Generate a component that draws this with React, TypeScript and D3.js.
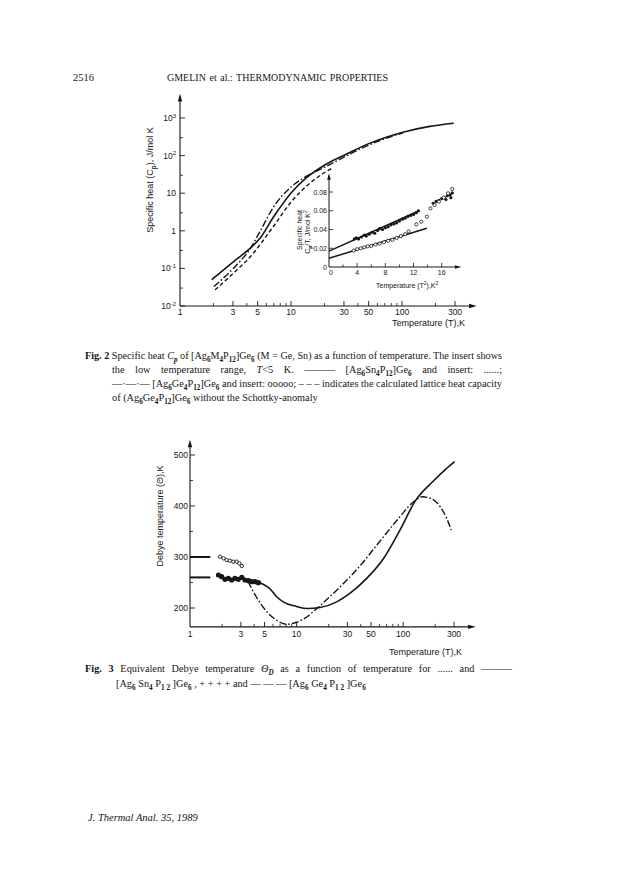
import * as d3 from 'd3';
import { useEffect, useRef } from 'react';

// ---- Fig. 2: specific heat, log-log --------------------------------------
const fig2XMajor = [1, 3, 5, 10, 30, 50, 100, 300];
const fig2XMinor = [2, 4, 6, 7, 8, 9, 20, 40, 60, 70, 80, 90, 200];
const fig2YMajor = [0.01, 0.1, 1, 10, 100, 1000];
const fig2YLabels: [string, string][] = [['10', '-2'], ['10', '-1'], ['1', ''], ['10', ''], ['10', '2'], ['10', '3']];
const fig2YMinor = [0.03, 0.3, 3, 30, 300];

// [T (K), Cp (J/mol K)]
const cpSn: [number, number][] = [
  [1.93, 0.05], [3.02, 0.15], [4.27, 0.34], [5.25, 0.63], [6.93, 2.3], [10.1, 10.5],
  [13.8, 26], [20.9, 60], [31.7, 110], [49.6, 205], [102, 420], [178, 600], [292, 725],
];
const cpGe: [number, number][] = [
  [2.02, 0.033], [3.02, 0.1], [4.27, 0.33], [5.25, 0.95], [6.93, 4.2], [10.1, 15],
  [12.9, 25], [20.9, 52], [49.6, 188], [102, 405],
];
const cpLattice: [number, number][] = [
  [2.07, 0.027], [3.02, 0.074], [4.27, 0.2], [6.93, 1.3], [10.1, 6], [15.9, 22], [24, 48],
];

// insert: Cp/T against T^2
const insXMajor = [0, 4, 8, 12, 16];
const insXMinor = [2, 6, 10, 14];
const insYMajor = [0, 0.02, 0.04, 0.06, 0.08];
const insYLabels = ['0', '0.02', '0.04', '0.06', '0.08'];
const insLineSn: [number, number][] = [[0, 0.017], [12.8, 0.06]];
const insLineGe: [number, number][] = [[0, 0.0093], [13.9, 0.0413]];
const insPtsSn: [number, number][] = [
  [3.6, 0.03], [3.9, 0.031], [4.2, 0.03], [4.6, 0.032], [5.0, 0.034], [5.3, 0.033], [5.7, 0.035],
  [6.1, 0.037], [6.5, 0.036], [6.9, 0.039], [7.2, 0.041], [7.6, 0.04], [8.0, 0.042], [8.4, 0.043],
  [8.8, 0.045], [9.2, 0.046], [9.6, 0.047], [10.0, 0.049], [10.4, 0.051], [10.8, 0.052],
  [11.2, 0.054], [11.6, 0.055], [12.0, 0.056], [12.4, 0.058], [12.7, 0.06],
  [14.8, 0.068], [15.2, 0.07], [15.6, 0.071], [16.0, 0.073], [16.4, 0.074], [16.6, 0.072],
  [16.8, 0.076], [17.2, 0.077], [17.3, 0.074], [17.5, 0.079],
];
const insPtsGe: [number, number][] = [
  [3.5, 0.0175], [4.0, 0.019], [4.5, 0.02], [5.0, 0.021], [5.5, 0.022], [6.0, 0.0225],
  [6.6, 0.024], [7.2, 0.025], [7.8, 0.0265], [8.4, 0.028], [9.0, 0.029], [9.6, 0.031],
  [10.2, 0.033], [10.8, 0.035], [11.3, 0.038], [12.4, 0.0455], [13.1, 0.0483], [13.9, 0.0537],
  [14.4, 0.0626], [15.0, 0.0661], [15.6, 0.0697], [16.3, 0.074], [16.9, 0.0786], [17.5, 0.0832],
];

// ---- Fig. 3: Debye temperature --------------------------------------------
const fig3XMajor = [1, 3, 5, 10, 30, 50, 100, 300];
const fig3XMinor = [2, 4, 6, 7, 8, 9, 20, 40, 60, 70, 80, 90, 200];
const fig3YMajor = [200, 300, 400, 500];
const fig3YMinor = [250, 350, 450];

const thetaSn: [number, number][] = [
  [4.0, 254], [4.9, 246], [5.6, 238], [6.5, 222], [7.5, 212], [10, 203], [12.5, 199],
  [16.6, 201], [23.8, 212], [31.8, 229], [45.5, 258], [65, 296], [93, 352], [130, 410],
  [190, 448], [250, 472], [305, 487],
];
const thetaGe: [number, number][] = [
  [3.5, 252], [4.3, 218], [5.3, 192], [6.5, 176], [8.0, 168], [10, 172], [12, 180],
  [15.5, 199], [23.8, 235], [36.6, 275], [60, 330], [87.5, 372], [125, 408], [150, 418],
  [185, 414], [222, 399], [256, 376], [282, 353],
];
const lowSn: [number, number][] = [
  [1.91, 300.6], [2.06, 297.4], [2.21, 294], [2.37, 292.8], [2.55, 290.8], [2.74, 290.8],
  [2.9, 287.6], [3.06, 282.4],
];
const lowGe: [number, number][] = [
  [1.85, 264.7], [1.98, 261.4], [2.13, 256.2], [2.29, 258.2], [2.46, 254.9], [2.64, 258.2],
  [2.84, 256.2], [3.06, 260.1], [3.28, 254.9], [3.53, 253.6], [3.8, 251.6], [4.08, 251.6],
  [4.38, 249.6],
];
const thetaZero = [300, 260];

const ink = '#161616';
const serif = '"Liberation Serif", "Times New Roman", serif';
const sans = '"Liberation Sans", Arial, sans-serif';

type Part = [string, string?];
type Sel = d3.Selection<any, unknown, null, undefined>;

// text with sub/superscripts, italics and bold pieces
function rich(
  g: Sel,
  x: number,
  y: number,
  parts: Part[],
  o: { size: number; family?: string; anchor?: string; width?: number; transform?: string },
) {
  const t = g
    .append('text')
    .attr('x', x)
    .attr('y', y)
    .attr('font-size', o.size)
    .attr('font-family', o.family ?? serif)
    .attr('fill', ink);
  if (o.anchor) t.attr('text-anchor', o.anchor);
  if (o.transform) t.attr('transform', o.transform);
  let shift = 0;
  parts.forEach(([s, f = '']) => {
    const want = f.includes('sub') ? o.size * 0.3 : f.includes('sup') ? -o.size * 0.4 : 0;
    const ts = t.append('tspan').text(s);
    if (want !== shift) ts.attr('dy', want - shift);
    shift = want;
    if (f.includes('sub') || f.includes('sup')) ts.attr('font-size', o.size * 0.7);
    if (f.includes('b')) ts.attr('font-weight', 'bold');
    if (f.includes('i')) ts.attr('font-style', 'italic');
  });
  if (o.width) justify(t, o.width);
  return t;
}

// stretch a line to a given width through word gaps, like the printed block text
function justify(t: Sel, width: number) {
  const node = t.node() as SVGTextElement;
  const natural = node.getComputedTextLength();
  const gaps = (node.textContent ?? '').split(' ').length - 1;
  if (natural > width || gaps === 0) {
    t.attr('textLength', width).attr('lengthAdjust', 'spacingAndGlyphs');
  } else {
    t.attr('word-spacing', (width - natural) / gaps);
  }
}

function arrow(g: Sel, x: number, y: number, dir: 'up' | 'right', s = 4) {
  const p =
    dir === 'up'
      ? `M${x},${y} L${x - s * 0.55},${y + s * 1.9} L${x + s * 0.55},${y + s * 1.9} Z`
      : `M${x},${y} L${x - s * 1.9},${y - s * 0.55} L${x - s * 1.9},${y + s * 0.55} Z`;
  g.append('path').attr('d', p).attr('fill', ink);
}

export default function App() {
  const svgRef = useRef<SVGSVGElement | null>(null);

  useEffect(() => {
    const svg = d3.select(svgRef.current);
    svg.selectAll('*').remove();
    const g = svg.append('g');

    /* -- page header / footer ------------------------------------------- */
    rich(g, 73, 81, [['2516']], { size: 10.5 });
    rich(g, 167, 81, [['GMELIN et al.: THERMODYNAMIC PROPERTIES']], { size: 10, width: 221 });
    g.append('text').attr('x', 88).attr('y', 821).attr('font-family', serif).attr('font-size', 10.5)
      .attr('font-style', 'italic').attr('fill', ink).text('J. Thermal Anal. 35, 1989');

    /* -- Fig. 2 ---------------------------------------------------------- */
    const x2 = d3.scaleLog().domain([1, 300]).range([180, 455]);
    const y2 = d3.scaleLog().domain([0.01, 1000]).range([306, 118]);
    const f2 = g.append('g');

    f2.append('line').attr('x1', x2(1)).attr('x2', x2(1)).attr('y1', y2(0.01)).attr('y2', y2(3600))
      .attr('stroke', ink).attr('stroke-width', 1.1);
    arrow(f2, x2(1), y2(4400), 'up');
    f2.append('line').attr('x1', x2(1)).attr('x2', x2(400)).attr('y1', y2(0.01)).attr('y2', y2(0.01))
      .attr('stroke', ink).attr('stroke-width', 1.1);
    arrow(f2, x2(470), y2(0.01), 'right');

    fig2YMajor.forEach((v, i) => {
      f2.append('line').attr('x1', x2(1)).attr('x2', x2(1) + 5).attr('y1', y2(v)).attr('y2', y2(v))
        .attr('stroke', ink).attr('stroke-width', 0.9);
      const [b, e] = fig2YLabels[i];
      rich(f2, x2(1) - 4, y2(v) + 3, e ? [[b], [e, 'sup']] : [[b]], { size: 8.5, family: sans, anchor: 'end' });
    });
    fig2YMinor.forEach((v) => {
      f2.append('line').attr('x1', x2(1)).attr('x2', x2(1) + 3).attr('y1', y2(v)).attr('y2', y2(v))
        .attr('stroke', ink).attr('stroke-width', 0.8);
    });
    fig2XMajor.forEach((v) => {
      if (v > 1)
        f2.append('line').attr('x1', x2(v)).attr('x2', x2(v)).attr('y1', y2(0.01)).attr('y2', y2(0.01) - 5)
          .attr('stroke', ink).attr('stroke-width', 0.9);
      f2.append('text').attr('x', x2(v)).attr('y', y2(0.01) + 8.5).attr('text-anchor', 'middle')
        .attr('font-family', sans).attr('font-size', 8.5).attr('fill', ink).text(v);
    });
    fig2XMinor.forEach((v) => {
      f2.append('line').attr('x1', x2(v)).attr('x2', x2(v)).attr('y1', y2(0.01)).attr('y2', y2(0.01) - 3)
        .attr('stroke', ink).attr('stroke-width', 0.8);
    });
    f2.append('text').attr('x', 465).attr('y', 326).attr('text-anchor', 'end').attr('font-family', sans)
      .attr('font-size', 9).attr('fill', ink).text('Temperature (T),K');
    rich(f2, 0, 0, [['Specific heat (C'], ['p', 'sub'], ['), J/mol K']], {
      size: 9, family: sans, anchor: 'middle', transform: 'translate(153,180) rotate(-90)',
    });

    const line2 = d3.line<[number, number]>().x((d) => x2(d[0])).y((d) => y2(d[1])).curve(d3.curveMonotoneX);
    f2.append('path').attr('d', line2(cpSn)).attr('fill', 'none').attr('stroke', ink).attr('stroke-width', 1.6);
    f2.append('path').attr('d', line2(cpGe)).attr('fill', 'none').attr('stroke', ink).attr('stroke-width', 1.4)
      .attr('stroke-dasharray', '7 2.2 1.6 2.2');
    f2.append('path').attr('d', line2(cpLattice)).attr('fill', 'none').attr('stroke', ink).attr('stroke-width', 1.4)
      .attr('stroke-dasharray', '4 2.6');

    /* -- insert ----------------------------------------------------------- */
    const xi = d3.scaleLinear().domain([0, 16]).range([329, 441.7]);
    const yi = d3.scaleLinear().domain([0, 0.08]).range([267, 192]);
    const ins = g.append('g');
    ins.append('line').attr('x1', xi(0)).attr('x2', xi(0)).attr('y1', yi(0)).attr('y2', yi(0.097))
      .attr('stroke', ink).attr('stroke-width', 1);
    arrow(ins, xi(0), yi(0.1), 'up', 3.4);
    ins.append('line').attr('x1', xi(0)).attr('x2', xi(18)).attr('y1', yi(0)).attr('y2', yi(0))
      .attr('stroke', ink).attr('stroke-width', 1);
    arrow(ins, xi(18.8), yi(0), 'right', 3.4);
    insYMajor.forEach((v, i) => {
      if (v > 0)
        ins.append('line').attr('x1', xi(0)).attr('x2', xi(0) + 4).attr('y1', yi(v)).attr('y2', yi(v))
          .attr('stroke', ink).attr('stroke-width', 0.8);
      ins.append('text').attr('x', xi(0) - 2).attr('y', yi(v) + 2.5).attr('text-anchor', 'end')
        .attr('font-family', sans).attr('font-size', 7).attr('fill', ink).text(insYLabels[i]);
    });
    insXMajor.forEach((v) => {
      if (v > 0)
        ins.append('line').attr('x1', xi(v)).attr('x2', xi(v)).attr('y1', yi(0)).attr('y2', yi(0) - 4)
          .attr('stroke', ink).attr('stroke-width', 0.8);
      ins.append('text').attr('x', xi(v) + (v === 0 ? 2 : 0)).attr('y', yi(0) + 8).attr('text-anchor', 'middle')
        .attr('font-family', sans).attr('font-size', 7).attr('fill', ink).text(v);
    });
    insXMinor.forEach((v) => {
      ins.append('line').attr('x1', xi(v)).attr('x2', xi(v)).attr('y1', yi(0)).attr('y2', yi(0) - 2.5)
        .attr('stroke', ink).attr('stroke-width', 0.8);
    });
    rich(ins, 376, 288, [['Temperature (T'], ['2', 'sup'], ['),K'], ['2', 'sup']], { size: 7, family: sans });
    rich(ins, 0, 0, [['Specific heat']], {
      size: 7, family: sans, anchor: 'middle', transform: 'translate(302,230) rotate(-90)',
    });
    rich(ins, 0, 0, [['C'], ['p', 'sub'], ['/T, J/mol K'], ['2', 'sup']], {
      size: 7, family: sans, anchor: 'middle', transform: 'translate(309.5,232) rotate(-90)',
    });

    const linei = d3.line<[number, number]>().x((d) => xi(d[0])).y((d) => yi(d[1]));
    ins.append('path').attr('d', linei(insLineSn)).attr('stroke', ink).attr('stroke-width', 1.5).attr('fill', 'none');
    ins.append('path').attr('d', linei(insLineGe)).attr('stroke', ink).attr('stroke-width', 1.5).attr('fill', 'none');
    insPtsSn.forEach(([a, b]) => {
      ins.append('circle').attr('cx', xi(a)).attr('cy', yi(b)).attr('r', 1.6).attr('fill', ink);
    });
    insPtsGe.forEach(([a, b]) => {
      ins.append('circle').attr('cx', xi(a)).attr('cy', yi(b)).attr('r', 1.6).attr('fill', '#fff')
        .attr('stroke', ink).attr('stroke-width', 0.8);
    });

    /* -- Fig. 2 caption ---------------------------------------------------- */
    const cap = g.append('g');
    rich(cap, 85, 359, [
      ['Fig. 2', 'b'], [' Specific heat '], ['C', 'i'], ['p', 'sub i'], [' of [Ag'], ['6', 'sub'], ['M'], ['4', 'sub'],
      ['P'], ['12', 'sub'], [']Ge'], ['6', 'sub'], [' (M = Ge, Sn) as a function of temperature. The insert shows'],
    ], { size: 10.3, width: 417 });
    rich(cap, 112, 373, [
      ['the low temperature range, '], ['T', 'i'], ['<5 K. ——— [Ag'], ['6', 'sub'], ['Sn'], ['4', 'sub'],
      ['P'], ['12', 'sub'], [']Ge'], ['6', 'sub'], [' and insert: ......;'],
    ], { size: 10.3, width: 390 });
    rich(cap, 112, 387, [
      ['—·—·— [Ag'], ['6', 'sub'], ['Ge'], ['4', 'sub'], ['P'], ['12', 'sub'], [']Ge'], ['6', 'sub'],
      [' and insert: ooooo; – – – indicates the calculated lattice heat capacity'],
    ], { size: 10.3, width: 390 });
    rich(cap, 112, 401, [
      ['of (Ag'], ['6', 'sub'], ['Ge'], ['4', 'sub'], ['P'], ['12', 'sub'], [']Ge'], ['6', 'sub'],
      [' without the Schottky-anomaly'],
    ], { size: 10.3 });

    /* -- Fig. 3 ---------------------------------------------------------- */
    const x3 = d3.scaleLog().domain([1, 300]).range([190, 454]);
    const y3 = d3.scaleLinear().domain([200, 500]).range([608, 455]);
    const f3 = g.append('g');
    f3.append('line').attr('x1', x3(1)).attr('x2', x3(1)).attr('y1', y3(163)).attr('y2', y3(522))
      .attr('stroke', ink).attr('stroke-width', 1.1);
    arrow(f3, x3(1), y3(530), 'up');
    f3.append('line').attr('x1', x3(1)).attr('x2', x3(420)).attr('y1', y3(163)).attr('y2', y3(163))
      .attr('stroke', ink).attr('stroke-width', 1.1);
    arrow(f3, x3(480), y3(163), 'right');
    fig3YMajor.forEach((v) => {
      f3.append('line').attr('x1', x3(1)).attr('x2', x3(1) + 5).attr('y1', y3(v)).attr('y2', y3(v))
        .attr('stroke', ink).attr('stroke-width', 0.9);
      f3.append('text').attr('x', x3(1) - 2).attr('y', y3(v) + 3).attr('text-anchor', 'end')
        .attr('font-family', sans).attr('font-size', 8.5).attr('fill', ink).text(v);
    });
    fig3YMinor.forEach((v) => {
      f3.append('line').attr('x1', x3(1)).attr('x2', x3(1) + 3).attr('y1', y3(v)).attr('y2', y3(v))
        .attr('stroke', ink).attr('stroke-width', 0.8);
    });
    fig3XMajor.forEach((v) => {
      if (v > 1)
        f3.append('line').attr('x1', x3(v)).attr('x2', x3(v)).attr('y1', y3(163)).attr('y2', y3(163) - 5)
          .attr('stroke', ink).attr('stroke-width', 0.9);
      f3.append('text').attr('x', x3(v)).attr('y', y3(163) + 10).attr('text-anchor', 'middle')
        .attr('font-family', sans).attr('font-size', 8.5).attr('fill', ink).text(v);
    });
    fig3XMinor.forEach((v) => {
      f3.append('line').attr('x1', x3(v)).attr('x2', x3(v)).attr('y1', y3(163)).attr('y2', y3(163) - 3)
        .attr('stroke', ink).attr('stroke-width', 0.8);
    });
    f3.append('text').attr('x', 462).attr('y', 655).attr('text-anchor', 'end').attr('font-family', sans)
      .attr('font-size', 9).attr('fill', ink).text('Temperature (T),K');
    rich(f3, 0, 0, [['Debye temperature (Θ),K']], {
      size: 9, family: sans, anchor: 'middle', transform: 'translate(163,516) rotate(-90)',
    });

    thetaZero.forEach((v) => {
      f3.append('line').attr('x1', x3(1)).attr('x2', x3(1.55)).attr('y1', y3(v)).attr('y2', y3(v))
        .attr('stroke', ink).attr('stroke-width', 2);
    });
    const line3 = d3.line<[number, number]>().x((d) => x3(d[0])).y((d) => y3(d[1])).curve(d3.curveMonotoneX);
    f3.append('path').attr('d', line3(thetaSn)).attr('fill', 'none').attr('stroke', ink).attr('stroke-width', 1.6);
    f3.append('path').attr('d', line3(thetaGe)).attr('fill', 'none').attr('stroke', ink).attr('stroke-width', 1.4)
      .attr('stroke-dasharray', '7 2.2 1.6 2.2');
    lowSn.forEach(([a, b]) => {
      f3.append('circle').attr('cx', x3(a)).attr('cy', y3(b)).attr('r', 1.7).attr('fill', '#fff')
        .attr('stroke', ink).attr('stroke-width', 0.9);
    });
    lowGe.forEach(([a, b]) => {
      f3.append('circle').attr('cx', x3(a)).attr('cy', y3(b)).attr('r', 2.6).attr('fill', ink);
    });

    /* -- Fig. 3 caption ---------------------------------------------------- */
    rich(cap, 85, 672, [
      ['Fig. 3', 'b'], [' Equivalent Debye temperature '], ['Θ', 'i'], ['D', 'sub i'],
      [' as a function of temperature for ...... and ———'],
    ], { size: 10.3, width: 427 });
    rich(cap, 116, 687, [
      ['[Ag'], ['6', 'sub'], [' Sn'], ['4', 'sub'], [' P'], ['1 2', 'sub'], [' ]Ge'], ['6', 'sub'],
      [' , + + + + and — — — [Ag'], ['6', 'sub'], [' Ge'], ['4', 'sub'], [' P'], ['1 2', 'sub'], [' ]Ge'], ['6', 'sub'],
    ], { size: 10.3 });
  }, []);

  return (
    <svg
      ref={svgRef}
      width={639}
      height={888}
      style={{ position: 'absolute', left: 0, top: 0, background: '#fff' }}
    />
  );
}
